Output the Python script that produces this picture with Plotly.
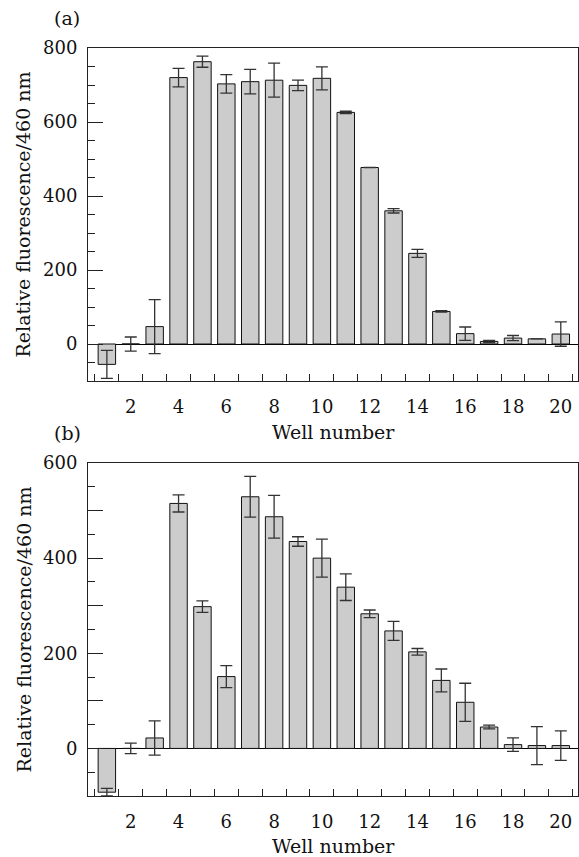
import plotly.graph_objects as go
from plotly.subplots import make_subplots

wells = list(range(1, 21))

fluor_a = [-55, 0, 47, 720, 763, 703, 709, 713, 699, 718,
           626, 477, 360, 245, 88, 28, 7, 16, 14, 27]
err_a = [38, 19, 73, 25, 15, 25, 33, 46, 14, 31,
         3, 0, 6, 11, 2, 18, 3, 7, 0, 33]

fluor_b = [-92, 0, 22, 515, 298, 151, 529, 487, 435, 400,
           339, 283, 247, 203, 143, 97, 45, 8, 6, 6]
err_b = [8, 11, 36, 18, 12, 23, 43, 45, 10, 40,
         28, 8, 20, 7, 24, 40, 4, 14, 40, 31]

xtick_vals = [2, 4, 6, 8, 10, 12, 14, 16, 18, 20]
ytick_vals_a = [0, 200, 400, 600, 800]
ytick_vals_b = [-100, 0, 100, 200, 300, 400, 500, 600]
ytick_text_b = ["", "0", "", "200", "", "400", "", "600"]

FONT = "DejaVu Serif"
FS = 18
FS_T = 19
BAR_FILL = "#cccccc"
INK = "#222222"

fig = make_subplots(rows=2, cols=1, vertical_spacing=0.0)

for row, vals, errs in [(1, fluor_a, err_a), (2, fluor_b, err_b)]:
    fig.add_trace(go.Bar(
        x=wells, y=vals, width=0.73,
        marker=dict(color=BAR_FILL, line=dict(color="#111111", width=1)),
        error_y=dict(type="data", array=errs, visible=True,
                     color="#333333", thickness=1.3, width=6),
        showlegend=False,
    ), row=row, col=1)

xcommon = dict(
    range=[0.21, 20.72], tickmode="array", tickvals=xtick_vals,
    ticks="", showgrid=False, zeroline=False,
    showline=True, linecolor=INK, linewidth=1, mirror=True,
    tickfont=dict(family=FONT, size=FS, color="#111"),
    ticklabelstandoff=9,
    minor=dict(ticks="inside", tick0=0.5, dtick=1, ticklen=7,
               tickcolor=INK, tickwidth=1, showgrid=False),
)
fig.update_xaxes(**xcommon, domain=[0, 1])

ycommon = dict(
    showgrid=False, zeroline=True, zerolinecolor="#000", zerolinewidth=1,
    showline=True, linecolor=INK, linewidth=1, mirror=True,
    ticks="inside", ticklen=15, tickcolor=INK, tickwidth=1,
    tickfont=dict(family=FONT, size=FS, color="#111"),
    ticklabelstandoff=6,
)
fig.update_yaxes(**ycommon, row=1, col=1, range=[-100, 800],
                 tickmode="array", tickvals=ytick_vals_a,
                 domain=[0.5548, 1.0],
                 minor=dict(ticks="inside", tick0=0, dtick=50, ticklen=7,
                            tickcolor=INK, tickwidth=1, showgrid=False))
fig.update_yaxes(**ycommon, row=2, col=1, range=[-100, 600],
                 tickmode="array", tickvals=ytick_vals_b, ticktext=ytick_text_b,
                 domain=[0.0, 0.4452],
                 minor=dict(ticks="inside", tick0=0, dtick=50, ticklen=7,
                            tickcolor=INK, tickwidth=1, showgrid=False))

ann_font = dict(family=FONT, size=FS_T, color="#111")
annotations = [
    dict(text="(a)", x=(67 - 88) / 490, y=(796 - 18) / 748),
    dict(text="(b)", x=(67 - 88) / 490, y=(796 - 433) / 748),
    dict(text="Well number", x=0.5, y=(796 - 432) / 748),
    dict(text="Well number", x=0.5, y=(796 - 846) / 748),
    dict(text="Relative fluorescence/460 nm", x=(23 - 88) / 490,
         y=(796 - 214.5) / 748, textangle=-90),
    dict(text="Relative fluorescence/460 nm", x=(23 - 88) / 490,
         y=(796 - 629.5) / 748, textangle=-90),
]
for a in annotations:
    fig.add_annotation(xref="paper", yref="paper", showarrow=False,
                       xanchor="center", yanchor="middle", font=ann_font, **a)

fig.update_layout(
    width=579, height=857,
    margin=dict(l=88, r=1, t=48, b=61),
    paper_bgcolor="white", plot_bgcolor="white",
    bargap=0.27,
    font=dict(family=FONT, size=FS, color="#111"),
)

fig.write_html(
    "out.html",
    config={"displayModeBar": False},
    post_script="document.body.style.margin='0';document.body.style.overflow='hidden';",
)
